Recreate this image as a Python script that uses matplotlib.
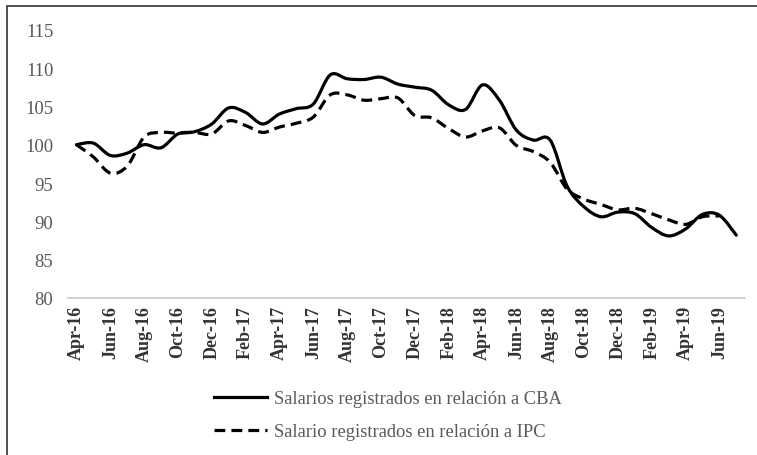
import matplotlib
matplotlib.use("Agg")
import matplotlib.pyplot as plt
import numpy as np
from matplotlib.path import Path
from matplotlib.patches import PathPatch, Rectangle
from matplotlib.lines import Line2D

# Meses (abril 2016 - julio 2019)
meses = ["Apr-16", "May-16", "Jun-16", "Jul-16", "Aug-16", "Sep-16", "Oct-16", "Nov-16",
         "Dec-16", "Jan-17", "Feb-17", "Mar-17", "Apr-17", "May-17", "Jun-17", "Jul-17",
         "Aug-17", "Sep-17", "Oct-17", "Nov-17", "Dec-17", "Jan-18", "Feb-18", "Mar-18",
         "Apr-18", "May-18", "Jun-18", "Jul-18", "Aug-18", "Sep-18", "Oct-18", "Nov-18",
         "Dec-18", "Jan-19", "Feb-19", "Mar-19", "Apr-19", "May-19", "Jun-19", "Jul-19"]

# Salarios registrados en relación a CBA (índice abr-16 = 100)
cba = [100.0, 100.2, 98.6, 98.9, 100.0, 99.6, 101.4, 101.7, 102.7, 104.8,
       104.2, 102.7, 104.0, 104.7, 105.3, 109.1, 108.6, 108.5, 108.8, 107.9,
       107.5, 107.1, 105.2, 104.6, 107.8, 105.8, 101.9, 100.6, 100.6, 94.6,
       91.9, 90.6, 91.2, 91.0, 89.2, 88.1, 89.0, 90.9, 90.8, 88.2]

# Salario registrados en relación a IPC
ipc = [100.0, 98.4, 96.3, 97.2, 101.0, 101.6, 101.5, 101.6, 101.4, 103.1,
       102.5, 101.6, 102.3, 102.8, 103.6, 106.5, 106.5, 105.8, 106.0, 106.1,
       103.8, 103.5, 102.1, 101.0, 101.8, 102.2, 99.9, 99.1, 97.7, 94.2,
       92.9, 92.2, 91.5, 91.7, 91.0, 90.2, 89.6, 90.6, 90.7]

etiquetas = ["Salarios registrados en relación a CBA",
             "Salario registrados en relación a IPC"]


# Curva suavizada tipo Excel (Catmull-Rom en forma de Bezier)
def curva_suave(y):
    pts = np.column_stack([np.arange(len(y)), np.asarray(y, dtype=float)])
    verts = [pts[0]]
    codes = [Path.MOVETO]
    for i in range(len(pts) - 1):
        p0 = pts[i - 1] if i > 0 else pts[i]
        p1 = pts[i]
        p2 = pts[i + 1]
        p3 = pts[i + 2] if i + 2 < len(pts) else pts[i + 1]
        verts += [p1 + (p2 - p0) / 6, p2 - (p3 - p1) / 6, p2]
        codes += [Path.CURVE4] * 3
    return Path(verts, codes)


plt.rcParams['font.family'] = ['Liberation Serif', 'DejaVu Serif']

fig = plt.figure(figsize=(7.57, 4.56), dpi=100)
ax = fig.add_axes([0.0898, 0.3443, 0.894, 0.5884])

ax.add_patch(PathPatch(curva_suave(cba), fill=False, color='black', lw=2.3,
                       capstyle='round', joinstyle='round'))
ax.add_patch(PathPatch(curva_suave(ipc), fill=False, color='black', lw=2.3,
                       linestyle=(0, (3.4, 1.9)), capstyle='butt'))

ax.set_xlim(-0.5, len(meses) - 0.5)
ax.set_ylim(80, 115)
ax.set_yticks(range(80, 116, 5))
ax.set_xticks(range(0, len(meses), 2))
ax.set_xticklabels(meses[::2], rotation=90, fontweight='bold', fontsize=13, color='#333333')
ax.tick_params(axis='y', length=0, labelsize=13.5, labelcolor='#595959', pad=10.5)
ax.tick_params(axis='x', length=0, pad=5)

for lado in ['top', 'right', 'left']:
    ax.spines[lado].set_visible(False)
ax.spines['bottom'].set_color('#c8c8c8')
ax.spines['bottom'].set_linewidth(1.2)

handles = [Line2D([], [], color='black', lw=2.3),
           Line2D([], [], color='black', lw=2.3, linestyle=(0, (3.4, 1.9)))]
leg = fig.legend(handles, etiquetas, loc='center', bbox_to_anchor=(0.512, 0.087),
                 frameon=False, fontsize=13.3, handlelength=2.9, handletextpad=0.35,
                 labelspacing=0.85)
for t in leg.get_texts():
    t.set_color('#595959')

# Marco del gráfico
fig.patches.append(Rectangle((6.5 / 757, -0.05), 1.2, 1.05 - 7 / 456, transform=fig.transFigure,
                             fill=False, edgecolor='#333333', lw=1.2))

fig.savefig("out.png", dpi=100)
